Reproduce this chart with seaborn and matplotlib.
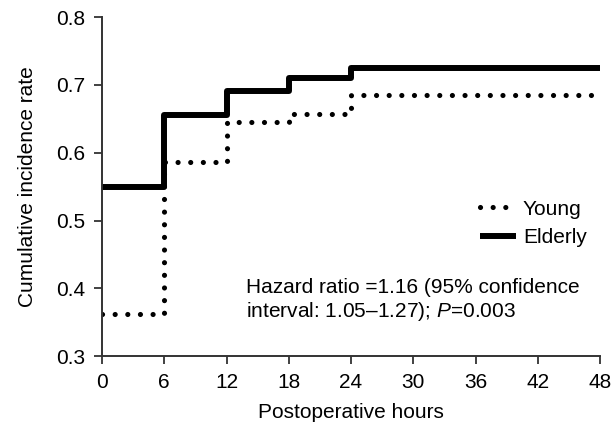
import matplotlib
matplotlib.use("Agg")
import matplotlib.pyplot as plt
import seaborn as sns
import pandas as pd

hours = [0, 6, 12, 18, 24, 48]
young = [0.362, 0.586, 0.645, 0.657, 0.685, 0.685]
elderly = [0.549, 0.655, 0.691, 0.711, 0.725, 0.725]
x_ticks = [0, 6, 12, 18, 24, 30, 36, 42, 48]
y_ticks = [0.3, 0.4, 0.5, 0.6, 0.7, 0.8]

sns.set_style("ticks")
plt.rcParams['font.family'] = ['Liberation Sans', 'DejaVu Sans']
plt.rcParams['mathtext.fontset'] = 'custom'
plt.rcParams['mathtext.rm'] = 'Liberation Sans'
plt.rcParams['mathtext.it'] = 'Liberation Sans:italic'
plt.rcParams['text.color'] = 'black'
plt.rcParams['axes.labelcolor'] = 'black'
plt.rcParams['xtick.labelcolor'] = 'black'
plt.rcParams['ytick.labelcolor'] = 'black'

fs = 15
fig = plt.figure(figsize=(6.11, 4.30), dpi=100)
ax = fig.add_axes([0.167, 0.172, 0.815, 0.788])

df_y = pd.DataFrame({"hours": hours, "rate": young})
df_e = pd.DataFrame({"hours": hours, "rate": elderly})

sns.lineplot(data=df_y, x="hours", y="rate", ax=ax, drawstyle="steps-post",
             color="black", lw=3.7, label="Young",
             linestyle=(0, (0.01, 2.45)), dash_capstyle="round")
sns.lineplot(data=df_e, x="hours", y="rate", ax=ax, drawstyle="steps-post",
             color="black", lw=4.3, label="Elderly", solid_capstyle="butt")

ax.set_xlim(0, 48)
ax.set_ylim(0.3, 0.8)
ax.set_xticks(x_ticks)
ax.set_yticks(y_ticks)
ax.set_xticklabels([str(v) for v in x_ticks])
ax.set_yticklabels([f"{v:.1f}" for v in y_ticks])
ax.tick_params(labelsize=fs, length=6, width=1.3, color="#333333", pad=6)
for s in ["left", "bottom"]:
    ax.spines[s].set_linewidth(1.4)
    ax.spines[s].set_color("#333333")
sns.despine(ax=ax)

ax.set_xlabel("Postoperative hours", fontsize=fs, labelpad=8)
ax.set_ylabel("Cumulative incidence rate", fontsize=fs, labelpad=14)

leg = ax.legend(loc="center right", bbox_to_anchor=(0.99, 0.392), frameon=False,
                borderaxespad=0, fontsize=fs, handlelength=1.7,
                handletextpad=0.35, labelspacing=0.45)

ax.text(0.29, 0.164, "Hazard ratio =1.16 (95% confidence\ninterval: 1.05–1.27); $\\mathit{P}$=0.003",
        transform=ax.transAxes, fontsize=fs, va="center", ha="left",
        linespacing=1.2)

fig.savefig("out.png", dpi=100)
